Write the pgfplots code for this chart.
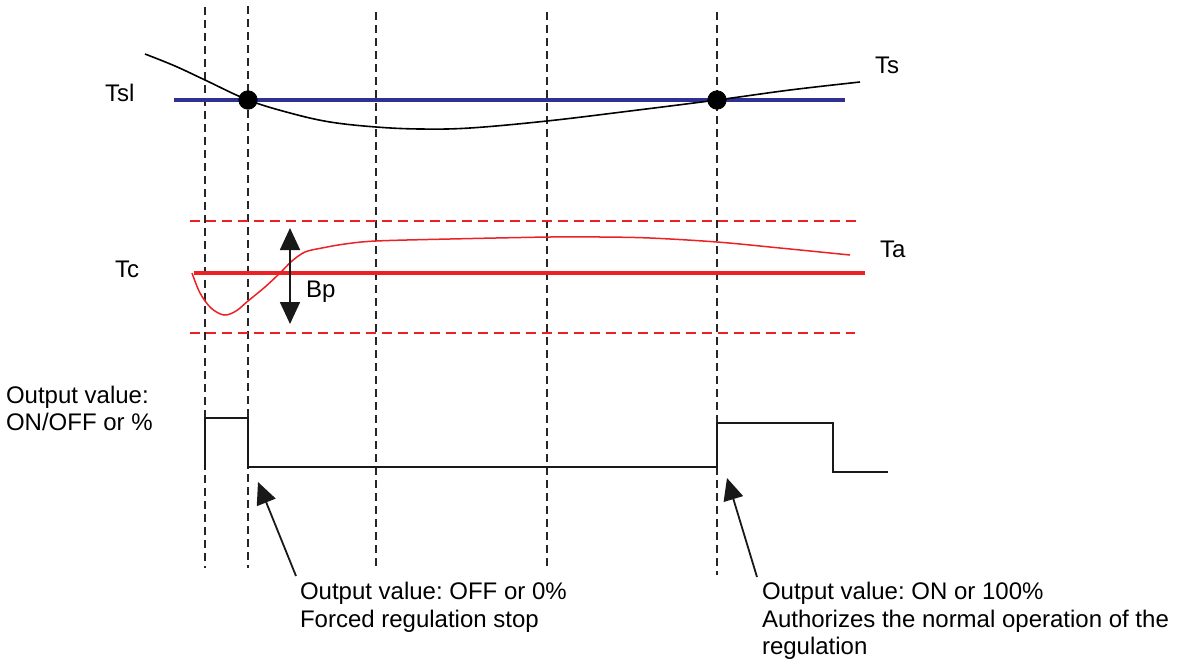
\documentclass[border=0pt]{standalone}
\usepackage{pgfplots}
\pgfplotsset{compat=1.18}
\usetikzlibrary{arrows.meta}
\usepackage{fontspec}
\setmainfont{Liberation Sans}
\frenchspacing
\definecolor{tsblue}{HTML}{2E3192}
\definecolor{tcred}{HTML}{ED2024}

\begin{document}
\begin{tikzpicture}[lbl/.style={anchor=base west, inner sep=0pt, outer sep=0pt, font=\fontsize{12}{14}\selectfont}]
\begin{axis}[
    scale only axis,
    width=591.5pt, height=329.5pt,
    xmin=0, xmax=1183, ymin=0, ymax=659,
    y dir=reverse,
    hide axis,
    clip=false,
]
% dashed time markers
\addplot[black!85, line width=0.75pt, dash pattern=on 4pt off 2.5pt] coordinates {(205,7) (205,568)};
\addplot[black!85, line width=0.75pt, dash pattern=on 4pt off 2.5pt] coordinates {(248,6) (248,568)};
\addplot[black!85, line width=0.75pt, dash pattern=on 4pt off 2.5pt] coordinates {(376,12) (376,570)};
\addplot[black!85, line width=0.75pt, dash pattern=on 4pt off 2.5pt] coordinates {(547,12) (547,570)};
\addplot[black!85, line width=0.75pt, dash pattern=on 4pt off 2.5pt] coordinates {(717,12) (717,575)};

% Tsl level and Ts curve
\addplot[tsblue, line width=2pt] coordinates {(174,100) (845,100)};
\addplot[black, line width=0.8pt, smooth, tension=0.6] coordinates {
    (145,54) (175,66) (205,80) (248,100) (290,113) (330,122) (376,127)
    (420,129) (470,128) (547,121) (630,111) (717,100) (790,90) (860,82)};
\addplot[black, only marks, mark=*, mark size=4.6pt] coordinates {(248,100) (717,100)};

% Tc band
\addplot[tcred, line width=0.75pt, dash pattern=on 5pt off 3pt] coordinates {(190,221) (858,221)};
\addplot[tcred, line width=0.75pt, dash pattern=on 5pt off 3pt] coordinates {(190,333) (855,333)};
\addplot[tcred, line width=2pt] coordinates {(194,273) (865,273)};
\addplot[tcred, line width=0.75pt, smooth, tension=0.55] coordinates {
    (192,273) (200,293) (211,308) (224,315) (236,311) (248,301) (265,287)
    (280,273) (292,261) (305,252) (322,248) (345,244) (376,241) (450,239)
    (550,237) (600,237) (650,238) (717,242) (780,248) (850,255)};

% Bp arrow
\addplot[black!90, line width=0.9pt,
    {Triangle[length=11pt,width=10pt]}-{Triangle[length=11pt,width=10pt]}]
    coordinates {(290,228) (290,324)};

% output value
\addplot[black!90, line width=0.9pt] coordinates {
    (205,470) (205,418) (248,418) (248,467) (717,467) (717,423)
    (833,423) (833,472) (888,472)};

% annotation arrows
\addplot[black!90, line width=0.9pt, -{Triangle[length=11pt,width=10pt]}]
    coordinates {(296,576) (258,482)};
\addplot[black!90, line width=0.9pt, -{Triangle[length=11pt,width=10pt]}]
    coordinates {(757,577) (727,478)};

% labels
\node[lbl] at (axis cs:105,101) {Tsl};
\node[lbl] at (axis cs:875,73) {Ts};
\node[lbl] at (axis cs:115,277) {Tc};
\node[lbl] at (axis cs:306,297) {Bp};
\node[lbl] at (axis cs:880,257) {Ta};
\node[lbl] at (axis cs:6,403) {Output value:};
\node[lbl] at (axis cs:6,430) {ON/OFF or \%};
\node[lbl] at (axis cs:300,599) {Output value: OFF or 0\%};
\node[lbl] at (axis cs:300,627) {Forced regulation stop};
\node[lbl] at (axis cs:762,599) {Output value: ON or 100\%};
\node[lbl] at (axis cs:762,627) {Authorizes the normal operation of the};
\node[lbl] at (axis cs:762,654) {regulation};
\end{axis}
\pgfresetboundingbox
\path (current axis.south west) rectangle (current axis.north east);
\end{tikzpicture}
\end{document}
